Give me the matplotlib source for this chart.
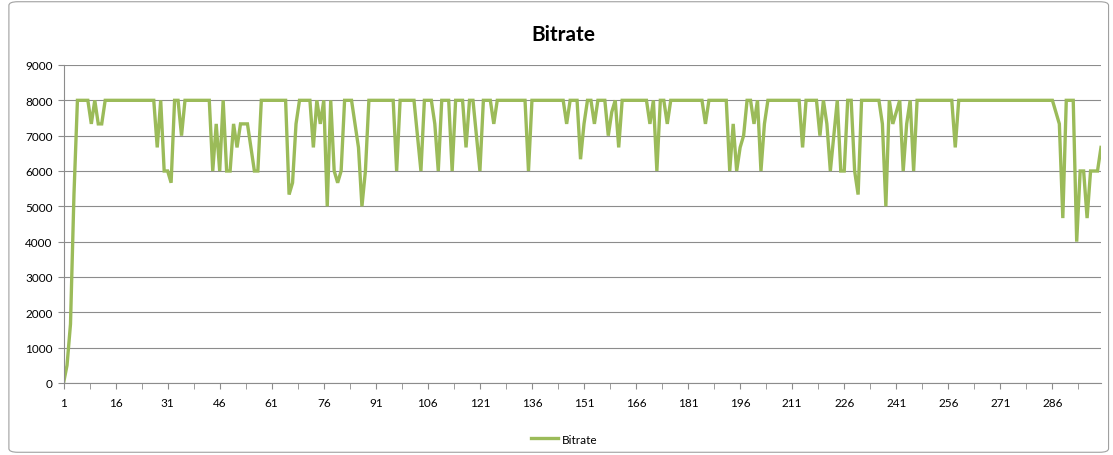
import matplotlib
matplotlib.use("Agg")
import matplotlib.pyplot as plt
from matplotlib.patches import FancyBboxPatch
from matplotlib.ticker import FixedLocator, NullFormatter

# bitrate samples, one per segment (1..300)
bitrate = [
    0, 500, 1667, 5333, 8000, 8000, 8000, 8000, 7333, 8000,
    7333, 7333, 8000, 8000, 8000, 8000, 8000, 8000, 8000, 8000,
    8000, 8000, 8000, 8000, 8000, 8000, 8000, 6667, 8000, 6000,
    6000, 5667, 8000, 8000, 7000, 8000, 8000, 8000, 8000, 8000,
    8000, 8000, 8000, 6000, 7333, 6000, 8000, 6000, 6000, 7333,
    6667, 7333, 7333, 7333, 6667, 6000, 6000, 8000, 8000, 8000,
    8000, 8000, 8000, 8000, 8000, 5333, 5667, 7333, 8000, 8000,
    8000, 8000, 6667, 8000, 7333, 8000, 5000, 8000, 6000, 5667,
    6000, 8000, 8000, 8000, 7333, 6667, 5000, 6000, 8000, 8000,
    8000, 8000, 8000, 8000, 8000, 8000, 6000, 8000, 8000, 8000,
    8000, 8000, 7000, 6000, 8000, 8000, 8000, 7333, 6000, 8000,
    8000, 8000, 6000, 8000, 8000, 8000, 6667, 8000, 8000, 7000,
    6000, 8000, 8000, 8000, 7333, 8000, 8000, 8000, 8000, 8000,
    8000, 8000, 8000, 8000, 6000, 8000, 8000, 8000, 8000, 8000,
    8000, 8000, 8000, 8000, 8000, 7333, 8000, 8000, 8000, 6333,
    7333, 8000, 8000, 7333, 8000, 8000, 8000, 7000, 7667, 8000,
    6667, 8000, 8000, 8000, 8000, 8000, 8000, 8000, 8000, 7333,
    8000, 6000, 8000, 8000, 7333, 8000, 8000, 8000, 8000, 8000,
    8000, 8000, 8000, 8000, 8000, 7333, 8000, 8000, 8000, 8000,
    8000, 8000, 6000, 7333, 6000, 6667, 7000, 8000, 8000, 7333,
    8000, 6000, 7333, 8000, 8000, 8000, 8000, 8000, 8000, 8000,
    8000, 8000, 8000, 6667, 8000, 8000, 8000, 8000, 7000, 8000,
    7333, 6000, 7000, 8000, 6000, 6000, 8000, 8000, 6000, 5333,
    8000, 8000, 8000, 8000, 8000, 8000, 7333, 5000, 8000, 7333,
    7667, 8000, 6000, 7333, 8000, 6000, 8000, 8000, 8000, 8000,
    8000, 8000, 8000, 8000, 8000, 8000, 8000, 6667, 8000, 8000,
    8000, 8000, 8000, 8000, 8000, 8000, 8000, 8000, 8000, 8000,
    8000, 8000, 8000, 8000, 8000, 8000, 8000, 8000, 8000, 8000,
    8000, 8000, 8000, 8000, 8000, 8000, 7667, 7333, 4667, 8000,
    8000, 8000, 4000, 6000, 6000, 4667, 6000, 6000, 6000, 6667,
]
segments = list(range(1, len(bitrate) + 1))
x_labels = list(range(1, 300, 15))
y_ticks = list(range(0, 9001, 1000))

plt.rcParams['font.family'] = ['Lato', 'DejaVu Sans']

fig = plt.figure(figsize=(11.13, 4.56), dpi=100)
fig.patch.set_facecolor('white')
fig.patches.append(FancyBboxPatch((0.008, 0.006), 0.988, 0.988, boxstyle='round,pad=0,rounding_size=0.008',
                                  transform=fig.transFigure, fill=False, edgecolor='#a0a0a0', linewidth=0.8))

ax = fig.add_axes([0.0571, 0.1579, 0.9321, 0.6974])
ax.plot(segments, bitrate, color='#9BBB59', linewidth=2.4, label='Bitrate', solid_joinstyle='miter')

ax.set_xlim(1, 300)
ax.set_ylim(0, 9000)
ax.set_yticks(y_ticks)
ax.grid(axis='y', color='#8c8c8c', linewidth=0.8)
ax.set_axisbelow(True)

ax.xaxis.set_major_locator(FixedLocator(x_labels))
ax.set_xticklabels([str(v) for v in x_labels])
ax.xaxis.set_minor_locator(FixedLocator([v + 7.5 for v in x_labels]))
ax.xaxis.set_minor_formatter(NullFormatter())
ax.tick_params(axis='x', which='both', length=4, color='#8c8c8c', labelsize=8.5, pad=6)
ax.tick_params(axis='y', length=4, color='#8c8c8c', labelsize=8.5, pad=4)

for side in ['top', 'right']:
    ax.spines[side].set_visible(False)
for side in ['left', 'bottom']:
    ax.spines[side].set_color('#8c8c8c')
    ax.spines[side].set_linewidth(0.8)

fig.text(0.506, 0.923, 'Bitrate', ha='center', va='center', fontsize=15, fontweight='bold')
fig.legend(loc='center', bbox_to_anchor=(0.507, 0.035), frameon=False, fontsize=8.5,
           handlelength=2.3, handletextpad=0.3)

fig.savefig('out.png', dpi=100)
